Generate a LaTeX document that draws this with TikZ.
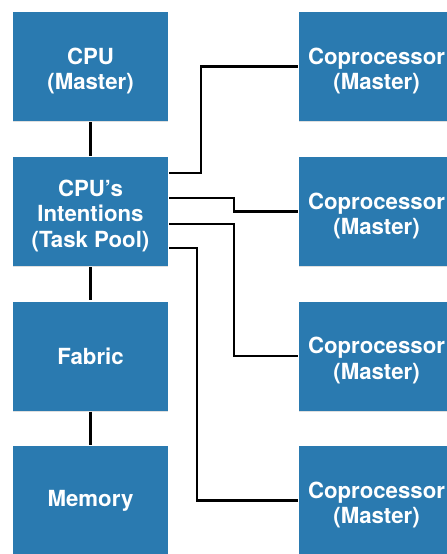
\documentclass[tikz,border=0pt]{standalone}
\usepackage{fontspec}
\setmainfont{TeX Gyre Heros}
\usetikzlibrary{shadows}
\definecolor{boxblue}{RGB}{42,122,176}
\newcommand{\topgap}{\rule{0pt}{18pt}}
\begin{document}
\begin{tikzpicture}[line width=1.7pt,
  unit/.style={rectangle,fill=boxblue,text=white,align=center,minimum width=3.875cm,minimum height=2.725cm,
    font=\bfseries\fontsize{15.8}{18.4}\selectfont,
    drop shadow={shadow xshift=0pt,shadow yshift=-1pt,opacity=0.25}}]
\useasboundingbox (0,0) rectangle (11.175,-13.85);
\clip (0,0) rectangle (11.175,-13.85);
\node[unit] (cpu) at (2.2625,-1.6625) {\topgap CPU\\(Master)};
\node[unit] (tp) at (2.2625,-5.2875) {\topgap CPU's\\Intentions\\(Task Pool)};
\node[unit] (fab) at (2.2625,-8.9) {Fabric};
\node[unit] (mem) at (2.2625,-12.5125) {Memory};
\node[unit] (cp1) at (9.4125,-1.6625) {\topgap Coprocessor\\(Master)};
\node[unit] (cp2) at (9.4125,-5.2875) {\topgap Coprocessor\\(Master)};
\node[unit] (cp3) at (9.4125,-8.9) {\topgap Coprocessor\\(Master)};
\node[unit] (cp4) at (9.4125,-12.5125) {\topgap Coprocessor\\(Master)};
\draw (cpu) -- (tp);
\draw (tp) -- (fab);
\draw (fab) -- (mem);
\draw ([yshift=0.96cm]tp.east) -- ++(0.8,0) |- (cp1.west);
\draw ([yshift=0.34cm]tp.east) -- ++(1.625,0) |- (cp2.west);
\draw ([yshift=-0.31cm]tp.east) -- ++(1.625,0) |- (cp3.west);
\draw ([yshift=-0.91cm]tp.east) -- ++(0.7,0) |- (cp4.west);
\end{tikzpicture}
\end{document}
